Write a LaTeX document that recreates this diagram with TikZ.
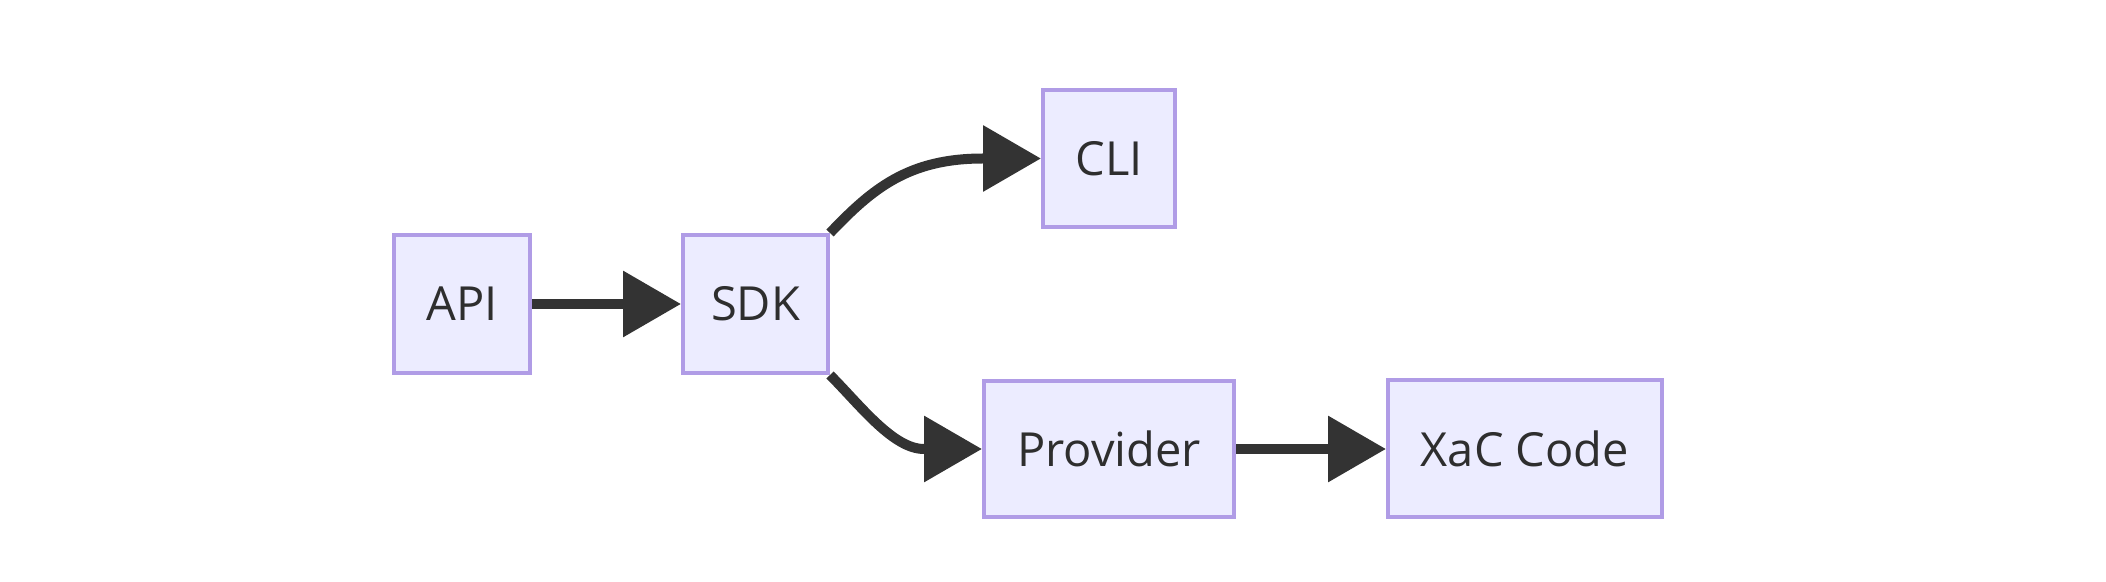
\documentclass[tikz,border=0pt]{standalone}
\usepackage{fontspec}
\newfontfamily\nodefont{Open Sans}
\usetikzlibrary{arrows.meta}
\definecolor{nodefill}{HTML}{ECECFF}
\definecolor{nodeborder}{RGB}{176,156,230}
\definecolor{edgecol}{HTML}{333333}
\definecolor{textcol}{HTML}{2E2E2E}
\tikzset{
  box/.style={draw=nodeborder, line width=2pt, fill=nodefill, rectangle,
    inner sep=0pt, text=textcol, font=\nodefont\fontsize{23.5pt}{28pt}\selectfont},
  edge/.style={draw=edgecol, line width=5pt,
    -{Triangle[length=29pt,width=32pt]}}
}
\begin{document}
\begin{tikzpicture}[x={(0.5pt,0)}, y={(0,-0.5pt)}]
\useasboundingbox (0,0) rectangle (2106,582);
\node[box, minimum width=68pt, minimum height=69pt] (api) at (462,304) {API};
\node[box, minimum width=72.5pt, minimum height=69pt] (sdk) at (755.5,304) {SDK};
\node[box, minimum width=66pt, minimum height=68.5pt] (cli) at (1109,158.5) {CLI};
\node[box, minimum width=125pt, minimum height=68pt] (prov) at (1109,449) {Provider};
\node[box, minimum width=137pt, minimum height=68.5pt] (xac) at (1525,449) {XaC Code};
\draw[edge] (api.east) -- (sdk.west);
\draw[edge] (sdk.north east) .. controls +(42,-44) and +(-75,0) .. ([xshift=-29pt]cli.west) -- (cli.west);
\draw[edge] (sdk.south east) .. controls +(30,30) and +(-31,0) .. ([xshift=-29pt]prov.west) -- (prov.west);
\draw[edge] (prov.east) -- (xac.west);
\end{tikzpicture}
\end{document}
